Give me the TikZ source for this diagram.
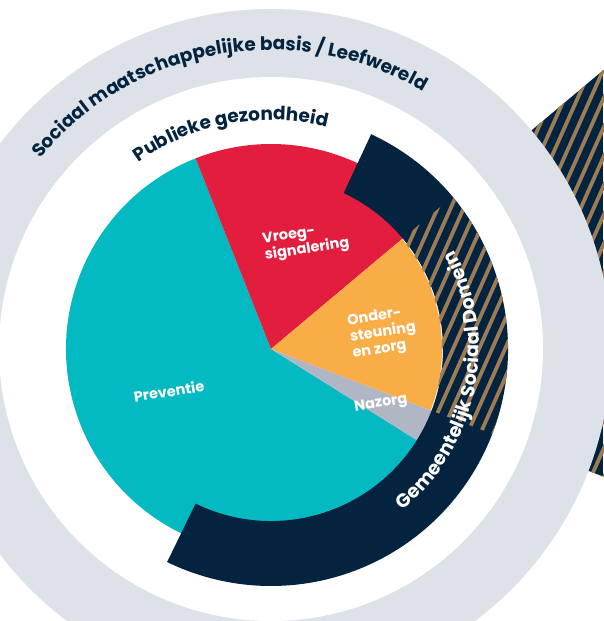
\documentclass[tikz,border=0pt]{standalone}
\usepackage{fontspec}
\setmainfont{Poppins}
\usetikzlibrary{decorations.text}
\definecolor{navy}{HTML}{03233F}
\definecolor{hatchbrown}{HTML}{9B7C55}
\definecolor{pred}{HTML}{E21D3D}
\definecolor{pcyan}{HTML}{03BAC2}
\definecolor{porange}{HTML}{F9AD47}
\definecolor{pgrey}{HTML}{B1B6C4}
\definecolor{ringgrey}{HTML}{DCE2E8}
\begin{document}
\begin{tikzpicture}[x=1pt,y=1pt,
  lbl/.style={text=white, font=\bfseries\fontsize{14.5}{16.5}\selectfont, rotate=9, align=left, inner sep=0pt},
  hatchline/.style={draw=hatchbrown, line width=3.8pt}]
\useasboundingbox (-271,-272) rectangle (332,349);
% outer hatched sector beyond the ring
\begin{scope}
  \clip (0,0) -- (-21:900) -- (40:900) -- cycle;
  \fill[navy] (-271,-272) rectangle (332,349);
  \foreach \i in {-4,...,40} \draw[hatchline] ({\i*13},0) ++(246:700) -- ++(66:1400);
\end{scope}
% grey ring
\fill[ringgrey] (0,0) circle[radius=340];
\fill[white] (0,0) circle[radius=272];
% pie
\fill[pcyan] (0,0) -- (111.6:205) arc[start angle=111.6, end angle=328, radius=205] -- cycle;
\fill[pred] (0,0) -- (40:205) arc[start angle=40, end angle=111.6, radius=205] -- cycle;
\fill[pgrey] (0,0) -- (-32:205) arc[start angle=-32, end angle=-21, radius=205] -- cycle;
\fill[porange] (0,0) -- (-21:171) arc[start angle=-21, end angle=40, radius=171] -- cycle;
% dark band
\fill[navy] (-116:172) arc[start angle=-116, end angle=65, radius=172] -- (65:237) arc[start angle=65, end angle=-116, radius=237] -- cycle;
% hatched part of band
\begin{scope}
  \clip (-21:171) arc[start angle=-21, end angle=40, radius=171] -- (40:237) arc[start angle=40, end angle=-21, radius=237] -- cycle;
  \foreach \i in {-4,...,40} \draw[hatchline] ({\i*13},0) ++(246:700) -- ++(66:1400);
\end{scope}
% curved texts
\path[decorate, decoration={text along path, text align=center,
  text={|\color{navy}\bfseries\fontsize{18.5}{20}\selectfont|Sociaal maatschappelijke basis / Leefwereld}}]
  (170:299) arc[start angle=170, end angle=30, radius=299];
\path[decorate, decoration={text along path, text align=center,
  text={|\color{navy}\bfseries\fontsize{18.5}{20}\selectfont|Publieke gezondheid}}]
  (150.6:229) arc[start angle=150.6, end angle=50.6, radius=229];
\path[decorate, decoration={text along path, text align=center,
  text={|\color{white}\bfseries\fontsize{19}{20}\selectfont|Gemeentelijk Sociaal Domein}}]
  (-71.2:208) arc[start angle=-71.2, end angle=48.8, radius=208];
% labels
\node[lbl] (vroeg) at (35,107) {Vroeg-\\signalering};
\node[lbl] (onder) at (112,16) {Onder-\\steuning\\en zorg};
\node[lbl] (nazorg) at (110,-55) {Nazorg};
\node[lbl] (preventie) at (-102,-42) {Preventie};
\end{tikzpicture}
\end{document}
